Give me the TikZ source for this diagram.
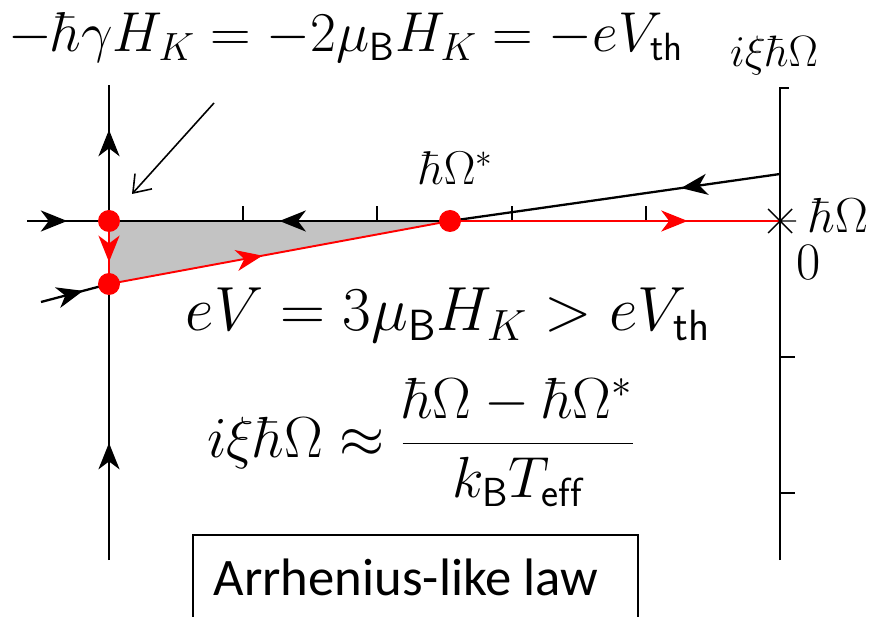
\RequirePackage{fix-cm}
\documentclass[tikz,border=0pt]{standalone}
\usepackage{fontspec}
\usepackage{xcolor}
\usepackage{amsmath}
\usepackage{tikz}
\usetikzlibrary{arrows.meta,decorations.markings}
\newfontfamily\calibfont{Carlito}
\definecolor{wedgegray}{RGB}{195,195,195}
\definecolor{flowred}{RGB}{255,0,0}

\begin{document}
\begin{tikzpicture}[x=0.02cm,y=-0.02cm,
        axis/.style={line width=1.3pt},
        flow/.style={line width=1.1pt,flowred},
        tick/.style={line width=0.8pt},
        dot/.style={circle,fill=flowred,inner sep=0pt,minimum size=0.44cm},
        lbl/.style={inner sep=0pt},
        tipat/.style={postaction={decorate},decoration={markings,
            mark=at position #1 with {\arrow{Stealth[length=15pt,width=12pt,inset=4.5pt]}}}}]
        \useasboundingbox (0,0) rectangle (875,617);
        \coordinate (A) at (109,221);
        \coordinate (B) at (109,284);
        \coordinate (S) at (450,221);
        \coordinate (X) at (780,221);
        \coordinate (R) at (780,174);
        \coordinate (ltop) at (109,85);
        \coordinate (lbot) at (109,560);
        \coordinate (lin) at (27,221);
        \coordinate (lowin) at (41,302);
        \coordinate (rtop) at (780,88);
        \coordinate (rbot) at (780,560);
        \coordinate (pin) at (214,103);
        \coordinate (pout) at (132,194);
        \fill[wedgegray] (A) -- (S) -- (B) -- cycle;
        \draw[axis,tipat=0.67] (A) -- (ltop);
        \draw[axis,tipat=0.424] (lbot) -- (B);
        \draw[axis,tipat=0.49] (lin) -- (A);
        \draw[axis,tipat=0.5] (S) -- (A);
        \draw[axis,tipat=0.30] (R) -- (S);
        \draw[axis,tipat=0.62] (lowin) -- (B);
        \draw[axis] (rbot) -- (rtop) -- ++(9,0);
        \foreach \tx in {243,377,512,646}
            \draw[tick] (\tx,221) -- ++(0,-15);
        \foreach \ty in {357,493}
            \draw[tick] (780,\ty) -- ++(15,0);
        \draw[flow,tipat=0.72] (S) -- (X);
        \draw[flow,tipat=0.45] (B) -- (S);
        \draw[flow,tipat=0.65] (A) -- (B);
        \draw[tick] (X) ++(-12,-12) -- ++(24,24) ++(-24,0) -- ++(24,-24) (X) -- ++(16,0);
        \draw[line width=0.9pt,-{Straight Barb[length=9pt,width=13pt]}] (pin) -- (pout);
        \node[dot] (fixA) at (A) {};
        \node[dot] (fixB) at (B) {};
        \node[dot] (sad) at (S) {};
        \node[lbl,anchor=base west,font=\fontsize{32}{38}\selectfont] (thr) at (8,52)
            {$-\hbar\gamma H_K = -2\mu_{\mathsf B}H_K = -eV_{\mathsf{th}}$};
        \node[lbl,anchor=base,font=\fontsize{25}{30}\selectfont] (yax) at (774,67) {$i\xi\hbar\Omega$};
        \node[lbl,anchor=base,font=\fontsize{27}{32}\selectfont] (sadlbl) at (456,185) {$\hbar\Omega^*$};
        \node[lbl,anchor=base,font=\fontsize{28}{33}\selectfont] (xax) at (839,233) {$\hbar\Omega$};
        \node[lbl,anchor=base,font=\fontsize{30}{36}\selectfont] (zero) at (809,280) {$0$};
        \node[lbl,anchor=base,font=\fontsize{35.5}{42}\selectfont] (bias) at (448,331)
            {$eV = 3\mu_{\mathsf B}H_K > eV_{\mathsf{th}}$};
        \node[lbl,anchor=base,font=\fontsize{33}{40}\selectfont] (rate) at (421,458)
            {$i\xi\hbar\Omega \approx \dfrac{\hbar\Omega - \hbar\Omega^*}{k_{\mathsf B}T_{\mathsf{eff}}}$};
        \draw[line width=0.9pt] (193,640) |- (638,535) -- (638,640);
        \node[lbl,anchor=base,font=\calibfont\fontsize{30}{36}\selectfont] (law) at (406,595) {Arrhenius-like law};
    \end{tikzpicture}
\end{document}
